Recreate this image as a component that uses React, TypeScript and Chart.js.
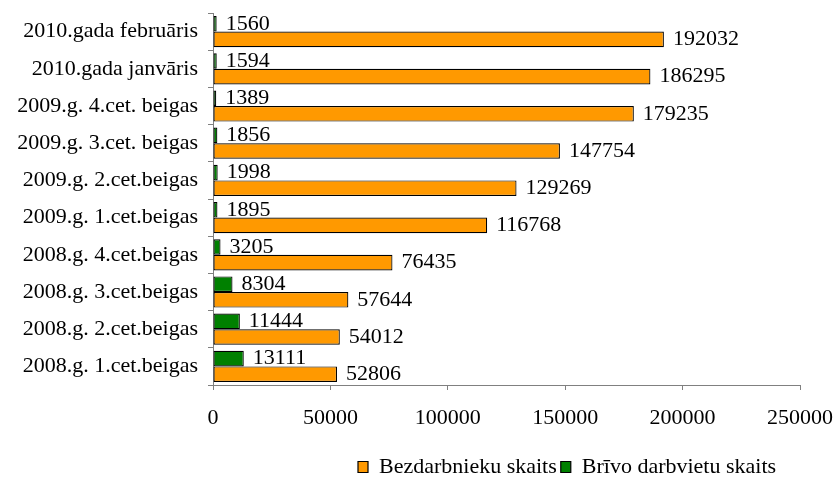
import React, { useEffect, useRef } from "react";
import { Chart, registerables } from "chart.js";

Chart.register(...registerables);

const categories = [
  "2010.gada februāris",
  "2010.gada janvāris",
  "2009.g. 4.cet. beigas",
  "2009.g. 3.cet. beigas",
  "2009.g. 2.cet.beigas",
  "2009.g. 1.cet.beigas",
  "2008.g. 4.cet.beigas",
  "2008.g. 3.cet.beigas",
  "2008.g. 2.cet.beigas",
  "2008.g. 1.cet.beigas",
];
const unemployed = [192032, 186295, 179235, 147754, 129269, 116768, 76435, 57644, 54012, 52806];
const vacancies = [1560, 1594, 1389, 1856, 1998, 1895, 3205, 8304, 11444, 13111];
const xTicks = [0, 50000, 100000, 150000, 200000, 250000];

const FONT = "'Liberation Serif', 'Times New Roman', serif";

const valueLabels = {
  id: "valueLabels",
  afterDatasetsDraw(chart: any) {
    const ctx = chart.ctx;
    ctx.save();
    ctx.font = `22px ${FONT}`;
    ctx.fillStyle = "#000";
    ctx.textAlign = "left";
    ctx.textBaseline = "middle";
    chart.data.datasets.forEach((ds: any, di: number) => {
      const meta = chart.getDatasetMeta(di);
      meta.data.forEach((el: any, i: number) => {
        ctx.fillText(String(ds.data[i]), el.x + 9, el.y);
      });
    });
    ctx.restore();
  },
};

const legendShift = {
  id: "legendShift",
  afterLayout(chart: any) {
    const lg = chart.legend;
    if (lg) {
      lg.left = 354;
      lg.right = 839;
      lg.top += 2;
      lg.bottom += 2;
    }
  },
};

export default function App() {
  const ref = useRef<HTMLCanvasElement | null>(null);
  useEffect(() => {
    document.body.style.margin = "0";
    const chart = new Chart(ref.current as HTMLCanvasElement, {
      type: "bar",
      data: {
        labels: categories,
        datasets: [
          {
            label: "Brīvo darbvietu skaits",
            data: vacancies,
            backgroundColor: "#008000",
            borderColor: "#000000",
            borderWidth: 1.2,
            borderSkipped: false,
            categoryPercentage: 0.84,
            barPercentage: 1,
          },
          {
            label: "Bezdarbnieku skaits",
            data: unemployed,
            backgroundColor: "#FF9900",
            borderColor: "#000000",
            borderWidth: 1.2,
            borderSkipped: false,
            categoryPercentage: 0.84,
            barPercentage: 1,
          },
        ],
      },
      options: {
        indexAxis: "y",
        animation: false,
        responsive: false,
        maintainAspectRatio: false,
        layout: { padding: { top: 13, right: 39, bottom: 0, left: 0 } },
        plugins: {
          tooltip: { enabled: false },
          legend: {
            position: "bottom",
            align: "start",
            labels: {
              font: { family: FONT, size: 22 },
              color: "#000",
              boxWidth: 10,
              boxHeight: 11,
              padding: 4,
              sort: (a: any, b: any) => b.datasetIndex - a.datasetIndex,
            },
          },
        },
        scales: {
          x: {
            min: 0,
            max: 250000,
            afterBuildTicks: (scale: any) => {
              scale.ticks = xTicks.map((v) => ({ value: v }));
            },
            afterFit: (scale: any) => {
              scale.height = 65;
              scale.paddingLeft = 0;
              scale.paddingRight = 0;
            },
            ticks: {
              font: { family: FONT, size: 22 },
              color: "#000",
              padding: 15,
              maxRotation: 0,
              callback: (v: any) => String(v),
            },
            grid: {
              drawOnChartArea: false,
              drawTicks: true,
              tickLength: 5,
              color: "#808080",
              lineWidth: 1,
            },
            border: { color: "#808080", width: 1 },
          },
          y: {
            afterFit: (scale: any) => {
              scale.width = 213;
              scale.paddingTop = 0;
              scale.paddingBottom = 0;
            },
            ticks: {
              font: { family: FONT, size: 22 },
              color: "#000",
              padding: 10,
            },
            grid: {
              offset: true,
              drawOnChartArea: false,
              drawTicks: true,
              tickLength: 5,
              color: "#808080",
              lineWidth: 1,
            },
            border: { color: "#808080", width: 1 },
          },
        },
      },
      plugins: [valueLabels, legendShift],
    });
    return () => chart.destroy();
  }, []);
  return (
    <div style={{ width: 839, height: 486, background: "#fff" }}>
      <canvas ref={ref} width={839} height={486} style={{ display: "block" }} />
    </div>
  );
}
